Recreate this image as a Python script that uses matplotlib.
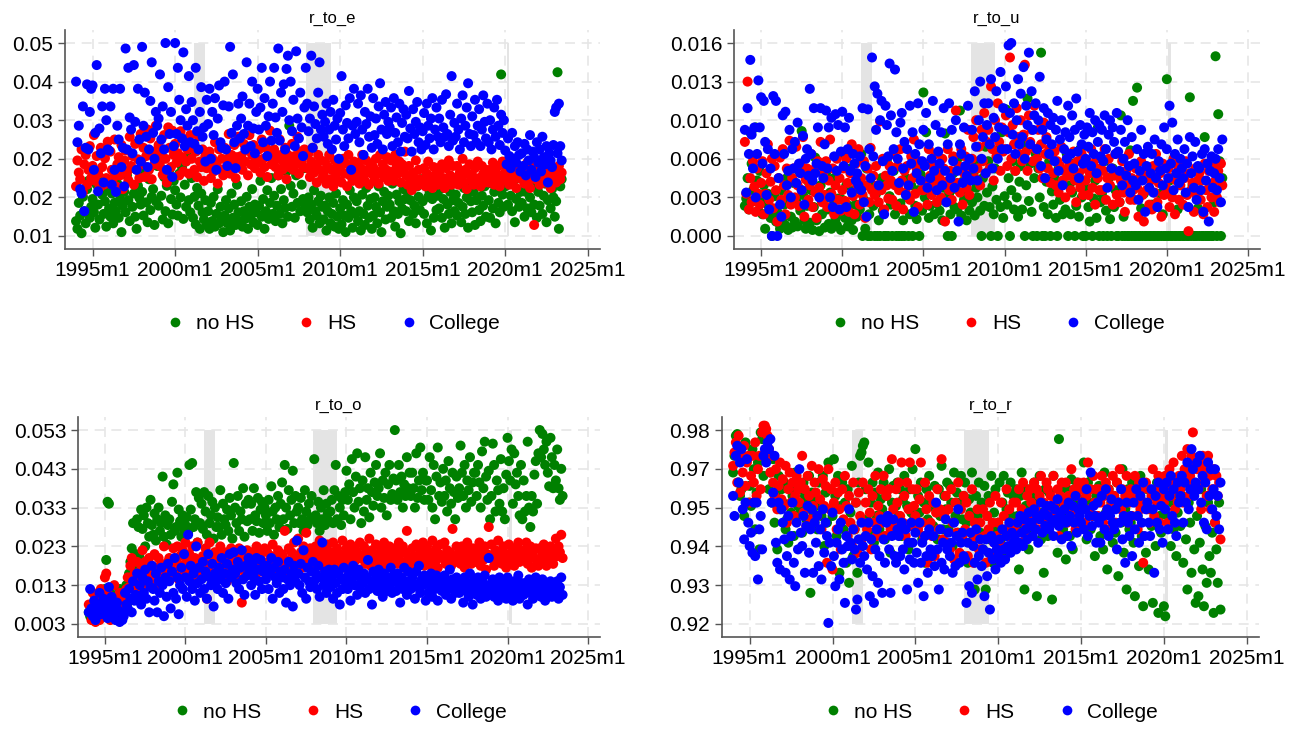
import matplotlib.pyplot as plt
from matplotlib.lines import Line2D
import numpy as np

plt.rcParams['font.family'] = ['Liberation Sans', 'DejaVu Sans']

# monthly series, first month 1994m1
START_YEAR = 1994

# ---- r_to_e  (values x 1e-4) ----
e_nohs = [
    132, 118, 165, 142, 110, 176, 150, 128, 190, 205, 138, 158,
    172, 148, 120, 198, 162, 135, 210, 180, 145, 168, 122, 190,
    155, 140, 182, 128, 165, 150, 200, 138, 172, 112, 160, 185,
    148, 215, 170, 132, 228, 158, 182, 140, 118, 196, 174, 162,
    185, 142, 220, 166, 130, 208, 152, 176, 190, 125, 168, 232,
    160, 240, 178, 135, 212, 150, 196, 128, 226, 172, 144, 205,
    188, 162, 142, 218, 175, 230, 136, 198, 158, 250, 170, 148,
    210, 138, 176, 126, 192, 160, 118, 182, 148, 135, 170, 125,
    150, 118, 165, 132, 176, 122, 145, 190, 128, 158, 138, 112,
    142, 170, 128, 155, 115, 182, 138, 162, 125, 198, 148, 132,
    168, 122, 150, 136, 176, 118, 158, 142, 190, 130, 162, 148,
    125, 160, 205, 140, 172, 118, 150, 188, 136, 165, 210, 145,
    178, 132, 160, 215, 145, 190, 128, 170, 156, 222, 140, 305,
    196, 158, 182, 138, 215, 165, 245, 150, 198, 172, 228, 160,
    148, 175, 135, 162, 120, 188, 150, 142, 168, 128, 178, 158,
    135, 160, 115, 150, 175, 128, 145, 165, 122, 182, 140, 118,
    155, 126, 170, 142, 112, 162, 138, 188, 150, 120, 175, 145,
    168, 132, 150, 115, 180, 145, 125, 192, 160, 138, 172, 118,
    142, 175, 158, 128, 195, 148, 112, 168, 185, 135, 158, 178,
    162, 138, 200, 150, 122, 180, 145, 168, 110, 155, 190, 172,
    150, 185, 132, 170, 212, 145, 160, 128, 195, 176, 152, 208,
    168, 145, 202, 128, 176, 185, 115, 172, 138, 210, 152, 178,
    155, 190, 138, 172, 120, 205, 162, 145, 185, 128, 170, 150,
    180, 142, 165, 215, 130, 158, 192, 145, 175, 120, 202, 168,
    148, 185, 125, 170, 205, 152, 132, 178, 160, 195, 140, 218,
    170, 138, 200, 155, 185, 128, 212, 165, 148, 398, 180, 158,
    195, 225, 162, 240, 178, 150, 205, 130, 172, 215, 158, 185,
    165, 208, 140, 185, 155, 230, 175, 148, 195, 162, 220, 138,
    185, 160, 212, 145, 178, 200, 130, 170, 225, 155, 190, 175,
    140, 168, 402, 118, 195, 208,
]
e_hs = [
    195, 242, 220, 208, 262, 185, 235, 252, 198, 225, 268, 210,
    232, 288, 205, 250, 218, 192, 265, 230, 198, 246, 210, 276,
    200, 258, 225, 210, 280, 195, 235, 248, 215, 270, 190, 242,
    260, 220, 206, 285, 232, 250, 198, 272, 225, 244, 210, 290,
    235, 265, 212, 250, 298, 225, 282, 208, 258, 235, 305, 246,
    270, 232, 255, 216, 288, 245, 202, 302, 265, 230, 296, 252,
    272, 238, 255, 215, 295, 248, 222, 280, 240, 262, 218, 288,
    245, 270, 225, 258, 212, 286, 240, 230, 262, 205, 250, 228,
    232, 258, 210, 246, 222, 275, 238, 200, 262, 226, 245, 215,
    265, 228, 245, 290, 218, 252, 236, 270, 210, 248, 285, 232,
    250, 225, 272, 240, 260, 215, 288, 235, 252, 270, 228, 245,
    238, 262, 220, 280, 245, 230, 265, 212, 250, 296, 235, 258,
    262, 230, 245, 215, 280, 252, 225, 238, 265, 208, 252, 230,
    245, 272, 225, 250, 235, 285, 218, 258, 240, 230, 262, 252,
    228, 255, 212, 240, 265, 220, 235, 202, 252, 225, 242, 210,
    218, 240, 200, 230, 252, 208, 225, 195, 242, 218, 232, 205,
    225, 202, 245, 218, 236, 195, 252, 215, 228, 205, 240, 222,
    212, 238, 200, 228, 252, 215, 205, 242, 225, 198, 235, 218,
    230, 208, 245, 222, 200, 252, 218, 235, 212, 226, 248, 205,
    222, 242, 215, 205, 252, 230, 218, 240, 202, 235, 225, 258,
    215, 198, 232, 205, 188, 220, 210, 242, 196, 225, 208, 200,
    205, 228, 195, 218, 240, 202, 212, 192, 230, 208, 220, 198,
    222, 200, 235, 210, 192, 228, 206, 242, 215, 198, 232, 210,
    208, 232, 198, 220, 212, 245, 202, 225, 190, 218, 235, 206,
    215, 198, 228, 206, 240, 210, 195, 232, 218, 202, 225, 212,
    202, 225, 210, 238, 198, 220, 206, 232, 195, 215, 240, 208,
    220, 205, 232, 198, 245, 215, 208, 225, 192, 232, 210, 222,
    208, 230, 200, 218, 238, 205, 192, 215, 232, 125, 208, 220,
    215, 198, 228, 210, 235, 202, 220, 208, 232, 192, 218, 206,
    225, 202, 218, 232, 208, 220,
]
e_col = [
    385, 275, 305, 190, 182, 340, 150, 265, 380, 262, 330, 372,
    378, 225, 292, 415, 186, 300, 255, 340, 202, 372, 315, 262,
    260, 340, 198, 372, 225, 185, 305, 280, 372, 230, 265, 195,
    445, 262, 410, 320, 298, 255, 415, 312, 225, 372, 280, 240,
    448, 305, 365, 285, 230, 262, 350, 420, 292, 245, 330, 305,
    318, 398, 280, 340, 262, 455, 225, 375, 290, 330, 212, 268,
    455, 290, 410, 352, 315, 282, 438, 268, 335, 305, 395, 275,
    348, 315, 272, 410, 295, 262, 330, 375, 285, 302, 240, 352,
    308, 372, 245, 330, 288, 355, 225, 318, 378, 275, 265, 342,
    385, 262, 232, 340, 448, 292, 398, 275, 228, 305, 345, 282,
    318, 358, 290, 262, 420, 305, 345, 268, 385, 300, 255, 330,
    372, 298, 338, 410, 275, 355, 305, 250, 322, 385, 278, 345,
    410, 320, 292, 445, 278, 365, 330, 380, 262, 408, 432, 315,
    385, 295, 352, 268, 440, 318, 282, 365, 302, 250, 338, 410,
    345, 295, 318, 432, 265, 340, 308, 282, 365, 420, 298, 325,
    285, 312, 345, 272, 298, 330, 262, 352, 305, 280, 318, 245,
    328, 395, 298, 268, 342, 310, 282, 355, 225, 305, 372, 290,
    312, 345, 275, 360, 298, 252, 330, 308, 372, 285, 322, 265,
    355, 288, 318, 272, 340, 382, 298, 262, 325, 348, 290, 312,
    302, 338, 268, 355, 292, 320, 275, 345, 258, 310, 335, 285,
    325, 282, 368, 300, 258, 335, 290, 312, 348, 275, 302, 262,
    295, 328, 270, 345, 305, 282, 318, 355, 262, 298, 338, 285,
    318, 275, 352, 302, 285, 362, 290, 268, 325, 395, 278, 310,
    285, 345, 298, 262, 318, 360, 275, 305, 338, 382, 290, 268,
    322, 288, 352, 275, 305, 335, 268, 298, 360, 312, 282, 345,
    275, 315, 262, 298, 338, 285, 352, 305, 270, 325, 292, 315,
    260, 235, 282, 250, 228, 292, 245, 268, 238, 275, 252, 222,
    255, 232, 272, 215, 262, 242, 288, 225, 258, 248, 212, 275,
    238, 262, 222, 285, 248, 235, 268, 202, 255, 242, 230, 270,
    330, 338, 255, 345, 268, 242,
]

# ---- r_to_u  (values x 1e-5) ----
u_nohs = [
    250, 310, 480, 220, 860, 600, 380, 290, 900, 460, 210, 540,
    310, 180, 420, 60, 270, 350, 240, 150, 0, 190, 330, 120,
    200, 110, 60, 380, 140, 260, 90, 480, 50, 320, 160, 70,
    440, 120, 300, 80, 540, 210, 870, 340, 130, 60, 250, 450,
    110, 380, 50, 240, 650, 130, 590, 40, 420, 180, 300, 70,
    520, 220, 100, 360, 60, 250, 480, 140, 90, 310, 200, 50,
    300, 680, 150, 420, 80, 250, 560, 130, 50, 380, 260, 160,
    470, 220, 680, 0, 300, 60, 560, 0, 180, 0, 420, 250,
    0, 350, 0, 130, 0, 480, 210, 0, 0, 620, 0, 330,
    260, 0, 540, 180, 0, 410, 0, 270, 0, 130, 0, 480,
    320, 0, 180, 420, 0, 600, 250, 140, 380, 0, 510, 210,
    1190, 320, 860, 460, 150, 250, 620, 380, 180, 540, 270, 480,
    210, 560, 130, 400, 850, 280, 0, 350, 180, 0, 520, 240,
    390, 220, 650, 1040, 170, 450, 300, 560, 130, 370, 210, 600,
    280, 520, 170, 400, 320, 620, 210, 0, 480, 250, 740, 360,
    620, 240, 0, 410, 180, 560, 300, 0, 720, 240, 860, 150,
    330, 1050, 260, 480, 0, 380, 620, 220, 540, 320, 160, 450,
    580, 220, 760, 0, 420, 1140, 290, 600, 200, 0, 480, 680,
    0, 560, 320, 1520, 0, 240, 0, 450, 180, 620, 0, 370,
    260, 480, 150, 0, 560, 300, 420, 180, 540, 220, 680, 0,
    420, 180, 360, 600, 0, 250, 500, 160, 720, 320, 0, 460,
    0, 390, 240, 120, 580, 0, 310, 460, 150, 900, 0, 280,
    350, 0, 620, 210, 0, 480, 140, 0, 560, 240, 380, 0,
    0, 280, 1000, 0, 160, 0, 420, 0, 0, 710, 0, 1120,
    0, 0, 1230, 0, 0, 230, 0, 350, 0, 0, 480, 0,
    0, 260, 0, 0, 580, 0, 0, 350, 0, 180, 0, 0,
    1300, 0, 460, 0, 0, 640, 0, 0, 220, 0, 0, 560,
    0, 0, 350, 0, 0, 1150, 0, 420, 0, 0, 0, 230,
    0, 380, 0, 0, 820, 0, 0, 0, 560, 0, 0, 280,
    1490, 0, 1010, 620, 0, 480,
]
u_hs = [
    780, 350, 1280, 220, 480, 280, 620, 410, 200, 560, 350, 260,
    440, 620, 180, 350, 520, 760, 300, 450, 640, 230, 580, 380,
    120, 480, 650, 300, 720, 420, 180, 560, 340, 790, 260, 480,
    560, 320, 740, 420, 250, 600, 380, 820, 160, 470, 560, 300,
    420, 680, 240, 550, 360, 150, 620, 400, 780, 280, 520, 340,
    620, 240, 460, 800, 350, 560, 180, 420, 640, 300, 480, 210,
    380, 560, 290, 640, 440, 200, 520, 760, 330, 180, 600, 420,
    720, 260, 480, 340, 620, 150, 420, 560, 280, 730, 380, 500,
    340, 580, 420, 280, 950, 380, 640, 220, 500, 420, 310, 580,
    460, 300, 680, 420, 250, 580, 380, 720, 460, 220, 540, 360,
    580, 420, 300, 660, 480, 800, 350, 560, 240, 620, 460, 380,
    380, 600, 450, 260, 720, 500, 340, 580, 420, 680, 280, 520,
    480, 320, 640, 560, 120, 450, 720, 380, 540, 300, 660, 420,
    1040, 440, 580, 360, 720, 260, 520, 660, 400, 880, 340, 560,
    640, 820, 480, 960, 560, 740, 420, 880, 620, 1020, 520, 780,
    880, 560, 1240, 720, 460, 960, 660, 1100, 780, 540, 900, 700,
    720, 1000, 580, 860, 1480, 640, 920, 760, 540, 1060, 820, 680,
    960, 620, 840, 1420, 700, 540, 1000, 780, 880, 620, 1080, 720,
    640, 880, 560, 760, 480, 940, 680, 820, 560, 720, 440, 660,
    520, 700, 420, 620, 360, 580, 740, 460, 540, 320, 640, 500,
    600, 380, 540, 700, 460, 280, 620, 520, 400, 680, 340, 560,
    460, 620, 340, 520, 720, 400, 580, 260, 640, 480, 380, 560,
    380, 540, 720, 300, 480, 640, 420, 560, 260, 500, 680, 340,
    520, 280, 460, 620, 360, 200, 540, 420, 680, 300, 480, 380,
    300, 560, 400, 160, 480, 620, 340, 120, 520, 380, 700, 260,
    460, 220, 580, 360, 680, 280, 440, 520, 160, 600, 340, 420,
    380, 560, 240, 480, 320, 640, 180, 460, 580, 300, 420, 520,
    260, 480, 620, 340, 40, 520, 380, 440, 200, 560, 340, 460,
    520, 300, 460, 180, 600, 380, 240, 540, 420, 320, 580, 200,
    460, 320, 540, 280, 600, 420,
]
u_col = [
    880, 360, 1060, 680, 1460, 840, 560, 900, 320, 680, 1290, 900,
    1150, 600, 1120, 780, 340, 720, 220, 560, 0, 1160, 680, 1120,
    0, 480, 260, 160, 1000, 680, 1030, 420, 540, 880, 320, 720,
    560, 780, 440, 940, 600, 520, 380, 830, 260, 640, 720, 500,
    1220, 680, 460, 1060, 520, 600, 900, 320, 1060, 580, 480, 760,
    1040, 560, 900, 320, 980, 240, 660, 1010, 540, 920, 220, 700,
    1030, 580, 900, 240, 720, 980, 540, 360, 680, 600, 460, 520,
    420, 660, 380, 1060, 280, 580, 160, 1050, 720, 480, 1480, 660,
    1240, 880, 1180, 420, 960, 1120, 620, 180, 1080, 920, 660, 1430,
    1000, 540, 720, 1380, 860, 640, 440, 940, 1020, 560, 780, 340,
    720, 420, 1080, 600, 860, 200, 680, 520, 1100, 760, 460, 620,
    880, 580, 1020, 400, 760, 480, 640, 1120, 540, 920, 380, 700,
    600, 860, 420, 1060, 540, 280, 760, 1100, 480, 880, 620, 400,
    960, 540, 120, 760, 680, 440, 900, 580, 500, 1080, 640, 460,
    880, 560, 1200, 740, 460, 960, 1280, 640, 820, 1100, 520, 920,
    1100, 760, 1300, 560, 980, 820, 1200, 640, 900, 1360, 720, 1060,
    880, 1240, 720, 1580, 1020, 1600, 840, 1100, 680, 960, 1300, 760,
    1180, 820, 1400, 640, 1080, 920, 1520, 760, 1200, 880, 1000, 1100,
    720, 960, 1320, 580, 880, 1060, 480, 800, 1020, 680, 920, 760,
    980, 620, 880, 1120, 540, 800, 960, 420, 720, 860, 640, 1080,
    820, 680, 1000, 560, 880, 1140, 700, 480, 920, 760, 600, 840,
    640, 900, 740, 1020, 580, 860, 680, 960, 520, 780, 920, 660,
    880, 620, 1000, 720, 400, 840, 960, 560, 900, 780, 680, 1020,
    700, 540, 880, 420, 640, 780, 500, 960, 580, 360, 820, 460,
    600, 420, 720, 300, 540, 880, 460, 680, 200, 580, 740, 400,
    520, 680, 360, 800, 480, 240, 620, 540, 760, 420, 900, 560,
    720, 480, 1080, 600, 940, 380, 680, 520, 800, 440, 640, 560,
    480, 720, 360, 600, 240, 820, 520, 660, 400, 780, 300, 580,
    560, 380, 680, 200, 720, 460, 600, 120, 540, 660, 400, 520,
    640, 380, 720, 480, 280, 800,
]

# ---- r_to_o  (values x 1e-4) ----
o_nohs = [
    60, 50, 70, 80, 55, 100, 90, 65, 75, 110, 60, 85,
    120, 195, 345, 340, 90, 70, 105, 60, 80, 55, 65, 120,
    75, 100, 60, 90, 130, 85, 160, 190, 225, 290, 175, 210,
    300, 280, 200, 325, 275, 310, 230, 330, 290, 255, 350, 285,
    260, 315, 245, 300, 330, 270, 290, 410, 255, 310, 235, 285,
    300, 260, 345, 390, 270, 280, 420, 325, 295, 255, 310, 270,
    285, 305, 265, 440, 325, 445, 280, 300, 370, 240, 355, 290,
    340, 275, 370, 320, 260, 360, 290, 310, 345, 250, 330, 280,
    305, 280, 375, 260, 340, 300, 285, 325, 270, 355, 310, 250,
    445, 330, 290, 360, 270, 320, 300, 380, 255, 340, 295, 350,
    300, 340, 270, 380, 310, 295, 355, 265, 325, 345, 290, 330,
    310, 270, 350, 290, 385, 320, 260, 330, 300, 360, 280, 340,
    395, 300, 440, 330, 275, 375, 310, 350, 425, 290, 360, 320,
    330, 290, 355, 300, 270, 375, 320, 285, 340, 300, 360, 305,
    455, 310, 290, 345, 270, 330, 300, 375, 285, 340, 315, 295,
    320, 350, 290, 375, 440, 300, 360, 330, 285, 350, 310, 370,
    425, 350, 390, 300, 455, 370, 330, 410, 470, 345, 380, 290,
    400, 320, 460, 350, 380, 305, 420, 370, 335, 395, 440, 360,
    380, 470, 330, 400, 355, 420, 310, 390, 440, 350, 365, 405,
    530, 400, 350, 440, 370, 410, 330, 390, 360, 460, 380, 420,
    360, 420, 380, 330, 470, 355, 400, 485, 375, 420, 350, 400,
    400, 350, 460, 375, 330, 440, 300, 410, 485, 360, 395, 345,
    430, 360, 400, 320, 450, 380, 340, 420, 370, 300, 410, 355,
    380, 490, 420, 360, 440, 330, 400, 375, 460, 345, 395, 420,
    420, 360, 440, 395, 330, 475, 380, 500, 410, 350, 425, 300,
    360, 495, 440, 320, 400, 375, 340, 455, 320, 380, 300, 415,
    510, 450, 400, 480, 340, 470, 390, 420, 360, 310, 440, 300,
    400, 320, 360, 500, 330, 280, 360, 320, 415, 450, 340, 470,
    530, 460, 520, 480, 440, 500, 420, 385, 510, 460, 380, 440,
    400, 480, 380, 350, 430, 360,
]
o_hs = [
    80, 60, 40, 110, 70, 35, 90, 55, 40, 120, 75, 50,
    150, 160, 110, 60, 40, 85, 70, 130, 95, 60, 50, 110,
    90, 60, 70, 100, 120, 150, 125, 180, 200, 140, 160, 120,
    190, 150, 120, 170, 220, 140, 190, 160, 130, 200, 150, 180,
    160, 210, 140, 175, 200, 130, 185, 155, 230, 170, 145, 190,
    200, 175, 150, 225, 165, 190, 230, 145, 205, 180, 220, 160,
    240, 190, 165, 210, 175, 230, 150, 200, 185, 240, 170, 195,
    155, 205, 180, 225, 95, 190, 240, 170, 200, 150, 215, 185,
    200, 170, 230, 160, 195, 215, 175, 140, 205, 190, 225, 165,
    180, 210, 150, 195, 225, 170, 85, 190, 205, 160, 220, 185,
    200, 170, 215, 185, 155, 230, 195, 175, 210, 165, 190, 225,
    175, 215, 190, 160, 205, 235, 180, 200, 170, 220, 190, 155,
    210, 180, 270, 195, 165, 225, 190, 215, 180, 240, 200, 170,
    250, 190, 215, 175, 230, 200, 265, 185, 210, 225, 180, 205,
    195, 230, 180, 215, 245, 200, 185, 225, 170, 210, 235, 190,
    215, 180, 240, 200, 170, 225, 195, 210, 185, 245, 205, 175,
    225, 190, 210, 235, 180, 205, 225, 195, 215, 170, 240, 200,
    200, 230, 185, 215, 195, 250, 180, 220, 205, 190, 235, 175,
    210, 185, 225, 200, 240, 175, 215, 195, 230, 205, 185, 220,
    225, 200, 185, 240, 210, 190, 230, 175, 215, 270, 200, 185,
    190, 225, 205, 170, 235, 200, 185, 220, 195, 240, 180, 210,
    230, 195, 215, 180, 245, 205, 190, 225, 175, 210, 235, 200,
    200, 240, 185, 220, 195, 215, 180, 275, 205, 190, 230, 195,
    215, 185, 230, 200, 175, 220, 240, 195, 210, 185, 225, 205,
    190, 225, 205, 240, 180, 215, 195, 230, 170, 210, 280, 200,
    235, 200, 180, 220, 205, 245, 190, 215, 185, 230, 200, 175,
    210, 235, 190, 205, 225, 180, 215, 200, 240, 190, 220, 205,
    195, 220, 240, 185, 205, 230, 175, 215, 200, 225, 190, 180,
    225, 190, 210, 235, 200, 180, 215, 195, 230, 205, 185, 220,
    250, 205, 230, 215, 260, 200,
]
o_col = [
    60, 120, 70, 50, 90, 40, 80, 65, 110, 55, 75, 95,
    90, 60, 45, 125, 80, 100, 70, 55, 40, 85, 65, 35,
    60, 40, 50, 110, 80, 70, 120, 95, 60, 140, 90, 105,
    160, 100, 130, 80, 150, 110, 170, 95, 140, 60, 125, 180,
    120, 90, 160, 60, 140, 110, 175, 130, 50, 150, 100, 185,
    140, 70, 165, 110, 200, 95, 150, 55, 130, 175, 120, 210,
    150, 100, 260, 140, 180, 120, 160, 90, 230, 135, 175, 110,
    145, 190, 120, 165, 95, 210, 150, 130, 185, 75, 160, 140,
    120, 175, 145, 200, 110, 160, 135, 185, 95, 210, 150, 170,
    215, 160, 135, 190, 120, 175, 220, 145, 105, 180, 155, 200,
    165, 130, 185, 150, 105, 200, 170, 140, 195, 120, 165, 180,
    145, 180, 120, 160, 200, 95, 175, 150, 135, 190, 110, 165,
    150, 120, 170, 85, 145, 190, 130, 160, 75, 180, 140, 245,
    160, 130, 185, 110, 220, 150, 95, 175, 140, 125, 165, 190,
    140, 160, 120, 180, 100, 150, 240, 130, 165, 110, 145, 170,
    125, 150, 95, 170, 135, 110, 160, 80, 145, 120, 175, 140,
    150, 120, 165, 90, 140, 180, 130, 155, 105, 170, 125, 145,
    135, 160, 110, 150, 195, 120, 140, 80, 165, 130, 150, 115,
    170, 125, 145, 100, 160, 135, 115, 150, 130, 175, 110, 155,
    140, 115, 160, 130, 85, 150, 120, 175, 140, 105, 165, 130,
    120, 150, 135, 95, 165, 125, 180, 110, 145, 130, 155, 90,
    145, 110, 130, 160, 100, 140, 120, 155, 90, 135, 150, 115,
    130, 155, 105, 140, 120, 170, 95, 145, 125, 110, 150, 135,
    110, 140, 125, 85, 150, 115, 135, 100, 160, 120, 80, 145,
    135, 105, 150, 120, 95, 140, 115, 155, 100, 130, 200, 110,
    120, 145, 100, 135, 115, 90, 150, 125, 105, 140, 120, 95,
    150, 100, 130, 115, 90, 140, 110, 125, 155, 95, 120, 135,
    105, 135, 120, 80, 145, 110, 130, 95, 125, 150, 110, 140,
    125, 100, 145, 115, 90, 135, 120, 105, 140, 100, 130, 115,
    110, 140, 95, 125, 150, 105,
]

# ---- r_to_r  (values x 1e-4) ----
r_nohs = [
    9650, 9700, 9760, 9765, 9620, 9580, 9600, 9700, 9520, 9740, 9690, 9560,
    9610, 9550, 9720, 9660, 9480, 9590, 9680, 9420, 9770, 9750, 9640, 9700,
    9700, 9720, 9600, 9650, 9560, 9690, 9500, 9590, 9420, 9640, 9540, 9600,
    9560, 9620, 9480, 9510, 9440, 9600, 9530, 9580, 9460, 9650, 9520, 9550,
    9600, 9540, 9470, 9620, 9580, 9510, 9560, 9640, 9290, 9590, 9530, 9500,
    9570, 9480, 9620, 9550, 9520, 9640, 9430, 9590, 9500, 9680, 9600, 9540,
    9520, 9690, 9580, 9460, 9640, 9350, 9550, 9620, 9480, 9560, 9380, 9600,
    9320, 9530, 9670, 9400, 9480, 9560, 9350, 9620, 9700, 9710, 9730, 9740,
    9600, 9510, 9680, 9470, 9560, 9620, 9440, 9590, 9520, 9650, 9480, 9570,
    9540, 9620, 9450, 9580, 9500, 9660, 9410, 9560, 9610, 9490, 9550, 9620,
    9520, 9600, 9460, 9570, 9640, 9490, 9550, 9420, 9600, 9530, 9660, 9510,
    9720, 9480, 9580, 9530, 9620, 9450, 9560, 9380, 9600, 9510, 9640, 9550,
    9560, 9490, 9610, 9540, 9450, 9600, 9520, 9670, 9480, 9580, 9540, 9620,
    9480, 9610, 9560, 9430, 9650, 9520, 9590, 9470, 9560, 9640, 9510, 9580,
    9620, 9500, 9380, 9570, 9530, 9650, 9450, 9300, 9580, 9520, 9620, 9470,
    9560, 9420, 9610, 9300, 9520, 9580, 9450, 9640, 9380, 9530, 9600, 9480,
    9500, 9620, 9450, 9560, 9640, 9400, 9540, 9590, 9470, 9620, 9520, 9580,
    9440, 9600, 9520, 9360, 9580, 9650, 9480, 9300, 9550, 9600, 9420, 9520,
    9580, 9480, 9620, 9520, 9280, 9560, 9640, 9450, 9530, 9350, 9600, 9500,
    9460, 9590, 9520, 9270, 9640, 9500, 9560, 9410, 9750, 9520, 9600, 9480,
    9540, 9390, 9600, 9520, 9460, 9630, 9420, 9560, 9500, 9620, 9480, 9570,
    9600, 9500, 9680, 9540, 9450, 9620, 9560, 9480, 9640, 9520, 9400, 9580,
    9520, 9610, 9460, 9580, 9420, 9650, 9530, 9360, 9600, 9480, 9560, 9440,
    9580, 9470, 9620, 9340, 9560, 9500, 9660, 9410, 9540, 9300, 9600, 9480,
    9500, 9620, 9440, 9280, 9580, 9520, 9370, 9640, 9460, 9250, 9560, 9410,
    9600, 9360, 9540, 9490, 9260, 9580, 9430, 9620, 9230, 9520, 9470, 9560,
    9250, 9220, 9640, 9520, 9600, 9430, 9560, 9480, 9620, 9400, 9530, 9580,
    9490, 9580, 9380, 9620, 9450, 9300, 9560, 9500, 9350, 9610, 9420, 9260,
    9520, 9280, 9440, 9600, 9360, 9250, 9490, 9320, 9560, 9400, 9350, 9470,
    9230, 9500, 9420, 9320, 9560, 9240,
]
r_hs = [
    9670, 9710, 9740, 9620, 9760, 9590, 9700, 9650, 9730, 9610, 9680, 9700,
    9560, 9640, 9700, 9620, 9740, 9580, 9660, 9700, 9600, 9770, 9790, 9790,
    9780, 9760, 9720, 9650, 9700, 9620, 9580, 9660, 9540, 9610, 9680, 9570,
    9630, 9550, 9670, 9500, 9600, 9650, 9560, 9620, 9520, 9580, 9640, 9600,
    9560, 9620, 9700, 9530, 9600, 9490, 9640, 9580, 9510, 9670, 9550, 9620,
    9590, 9520, 9660, 9570, 9480, 9630, 9550, 9610, 9380, 9660, 9540, 9600,
    9360, 9560, 9620, 9480, 9590, 9540, 9420, 9600, 9510, 9640, 9550, 9460,
    9580, 9500, 9430, 9620, 9480, 9560, 9410, 9590, 9520, 9450, 9620, 9500,
    9560, 9480, 9600, 9530, 9420, 9580, 9500, 9640, 9460, 9550, 9520, 9600,
    9500, 9640, 9460, 9580, 9520, 9600, 9480, 9690, 9540, 9500, 9600, 9560,
    9620, 9520, 9680, 9500, 9580, 9460, 9620, 9540, 9680, 9490, 9600, 9550,
    9520, 9600, 9480, 9570, 9680, 9500, 9460, 9620, 9540, 9380, 9580, 9500,
    9460, 9560, 9400, 9530, 9600, 9480, 9540, 9690, 9450, 9520, 9580, 9440,
    9540, 9420, 9600, 9500, 9390, 9560, 9470, 9620, 9410, 9540, 9460, 9580,
    9480, 9560, 9400, 9520, 9440, 9600, 9380, 9500, 9460, 9540, 9420, 9500,
    9420, 9540, 9460, 9380, 9520, 9480, 9560, 9400, 9500, 9440, 9580, 9460,
    9500, 9440, 9560, 9420, 9520, 9480, 9600, 9460, 9540, 9500, 9420, 9560,
    9480, 9560, 9500, 9600, 9440, 9540, 9620, 9500, 9460, 9580, 9520, 9600,
    9560, 9500, 9620, 9540, 9600, 9480, 9580, 9640, 9520, 9560, 9500, 9620,
    9600, 9540, 9580, 9500, 9640, 9560, 9520, 9600, 9460, 9580, 9620, 9540,
    9560, 9620, 9500, 9580, 9540, 9660, 9520, 9600, 9480, 9580, 9620, 9540,
    9600, 9540, 9620, 9500, 9580, 9680, 9540, 9600, 9520, 9640, 9560, 9600,
    9520, 9600, 9560, 9640, 9500, 9580, 9620, 9540, 9600, 9480, 9560, 9640,
    9580, 9500, 9620, 9560, 9660, 9540, 9600, 9520, 9580, 9640, 9500, 9560,
    9600, 9520, 9580, 9640, 9560, 9480, 9620, 9540, 9600, 9380, 9560, 9620,
    9540, 9600, 9500, 9580, 9660, 9520, 9600, 9560, 9640, 9500, 9580, 9620,
    9560, 9640, 9600, 9500, 9660, 9580, 9620, 9680, 9540, 9600, 9560, 9640,
    9600, 9700, 9560, 9660, 9620, 9720, 9580, 9640, 9700, 9770, 9620, 9680,
    9660, 9600, 9680, 9540, 9700, 9620, 9660, 9580, 9700, 9640, 9540, 9600,
    9660, 9500, 9640, 9580, 9620, 9450,
]
r_col = [
    9580, 9520, 9700, 9730, 9620, 9680, 9720, 9540, 9450, 9560, 9690, 9500,
    9430, 9470, 9410, 9560, 9400, 9560, 9330, 9480, 9520, 9420, 9700, 9720,
    9680, 9740, 9720, 9750, 9560, 9590, 9700, 9440, 9380, 9560, 9360, 9540,
    9500, 9450, 9350, 9400, 9520, 9330, 9460, 9560, 9380, 9310, 9500, 9420,
    9660, 9470, 9430, 9520, 9350, 9490, 9550, 9410, 9480, 9540, 9350, 9500,
    9440, 9520, 9370, 9480, 9330, 9540, 9410, 9500, 9460, 9200, 9440, 9370,
    9530, 9400, 9310, 9440, 9480, 9330, 9500, 9420, 9380, 9260, 9460, 9430,
    9540, 9440, 9390, 9480, 9420, 9240, 9270, 9450, 9380, 9500, 9430, 9400,
    9460, 9360, 9500, 9280, 9450, 9340, 9260, 9420, 9480, 9320, 9400, 9510,
    9290, 9450, 9380, 9500, 9520, 9420, 9290, 9460, 9510, 9400, 9380, 9480,
    9460, 9400, 9500, 9420, 9360, 9480, 9300, 9440, 9390, 9500, 9440, 9380,
    9470, 9410, 9320, 9500, 9380, 9440, 9280, 9460, 9400, 9350, 9480, 9420,
    9400, 9460, 9370, 9560, 9420, 9300, 9480, 9380, 9440, 9360, 9510, 9420,
    9470, 9400, 9440, 9350, 9500, 9370, 9460, 9540, 9380, 9440, 9470, 9400,
    9390, 9260, 9440, 9310, 9470, 9290, 9430, 9380, 9480, 9330, 9400, 9450,
    9370, 9420, 9280, 9450, 9340, 9410, 9240, 9460, 9390, 9440, 9360, 9420,
    9400, 9450, 9380, 9480, 9420, 9390, 9460, 9430, 9500, 9410, 9470, 9440,
    9460, 9420, 9500, 9440, 9520, 9470, 9430, 9510, 9480, 9450, 9530, 9490,
    9500, 9460, 9540, 9480, 9520, 9440, 9510, 9560, 9470, 9530, 9490, 9550,
    9520, 9480, 9550, 9500, 9460, 9540, 9510, 9570, 9490, 9530, 9450, 9510,
    9540, 9500, 9460, 9560, 9520, 9430, 9550, 9500, 9580, 9470, 9540, 9520,
    9500, 9560, 9480, 9540, 9600, 9460, 9520, 9650, 9490, 9550, 9520, 9440,
    9560, 9500, 9440, 9580, 9520, 9480, 9600, 9540, 9460, 9520, 9570, 9500,
    9480, 9540, 9420, 9560, 9500, 9600, 9450, 9520, 9380, 9560, 9500, 9460,
    9520, 9400, 9560, 9480, 9600, 9520, 9440, 9580, 9500, 9620, 9460, 9540,
    9560, 9500, 9460, 9600, 9540, 9350, 9580, 9500, 9620, 9480, 9550, 9440,
    9600, 9540, 9620, 9480, 9580, 9640, 9520, 9600, 9500, 9460, 9620, 9560,
    9580, 9640, 9500, 9620, 9560, 9680, 9540, 9600, 9720, 9660, 9580, 9620,
    9680, 9600, 9700, 9560, 9640, 9500, 9620, 9480, 9680, 9580, 9660, 9540,
    9600, 9660, 9520, 9580, 9480, 9620,
]

series_names = ["no HS", "HS", "College"]
series_colors = ["#008000", "#ff0000", "#0000ff"]

# recessions (start, end) as (year, month)
recessions = [((2001, 3), (2001, 11)), ((2007, 12), (2009, 6)), ((2020, 2), (2020, 4))]

xtick_years = [1995, 2000, 2005, 2010, 2015, 2020, 2025]

e_ticks = [0.0105, 0.0175, 0.0245, 0.0315, 0.0385, 0.0455]
u_ticks = [0.0, 0.0032, 0.0064, 0.0096, 0.0128, 0.016]
o_ticks = [0.003, 0.013, 0.023, 0.033, 0.043, 0.053]
r_ticks = [0.9197, 0.9313, 0.9429, 0.9545, 0.9661, 0.9777]

# (title, series, scale, ticks, label format, axes rect in pixels: left, top, width, height)
panels = [
    ("r_to_e", (e_nohs, e_hs, e_col), 1e-4, e_ticks, "%.2f", (65, 30, 535, 219)),
    ("r_to_u", (u_nohs, u_hs, u_col), 1e-5, u_ticks, "%.3f", (734, 30, 526, 219)),
    ("r_to_o", (o_nohs, o_hs, o_col), 1e-4, o_ticks, "%.3f", (78, 417, 522, 220)),
    ("r_to_r", (r_nohs, r_hs, r_col), 1e-4, r_ticks, "%.2f", (722, 417, 537, 220)),
]

W, H = 1304, 730
fig = plt.figure(figsize=(W / 100, H / 100), dpi=100)

def ym(y, m):
    return y + (m - 1) / 12.0

for title, data, scale, ticks, fmt, (px, py, pw, ph) in panels:
    ax = fig.add_axes([px / W, 1 - (py + ph) / H, pw / W, ph / H])
    span = ticks[-1] - ticks[0]
    ax.set_ylim(ticks[0] - 0.0674 * span, ticks[-1] + 0.0674 * span)
    ax.set_xlim(1993.33, 2025.74)

    for (y0, m0), (y1, m1) in recessions:
        ax.fill_between([ym(y0, m0), ym(y1, m1)], ticks[0], ticks[-1],
                        color="#e4e4e4", lw=0, zorder=0)

    for vals, color in zip(data, series_colors):
        v = np.array(vals, dtype=float) * scale
        x = START_YEAR + np.arange(len(v)) / 12.0
        ax.scatter(x, v, s=52, color=color, edgecolors="none", zorder=3)

    ax.set_yticks(ticks)
    ax.set_yticklabels([fmt % t for t in ticks])
    ax.set_xticks(xtick_years)
    ax.set_xticklabels([f"{yr}m1" for yr in xtick_years])
    ax.tick_params(labelsize=15, length=5, width=1, color="#555555", pad=3.5)
    ax.grid(True, color="#e6e6e6", linestyle=(0, (6, 4)), linewidth=1.2, zorder=1)
    ax.set_axisbelow(True)
    for side in ("top", "right"):
        ax.spines[side].set_visible(False)
    for side in ("left", "bottom"):
        ax.spines[side].set_color("#555555")
        ax.spines[side].set_linewidth(1.2)
    ax.set_title(title, fontsize=12, pad=5)

    handles = [Line2D([], [], marker="o", linestyle="none", markersize=7,
                      markerfacecolor=c, markeredgecolor="none") for c in series_colors]
    ax.legend(handles, series_names, loc="center", bbox_to_anchor=(0.5, -0.342),
              ncol=3, frameon=False, fontsize=15, handlelength=1.0,
              handletextpad=0.5, columnspacing=2.0)

fig.savefig("out.png", dpi=100)
